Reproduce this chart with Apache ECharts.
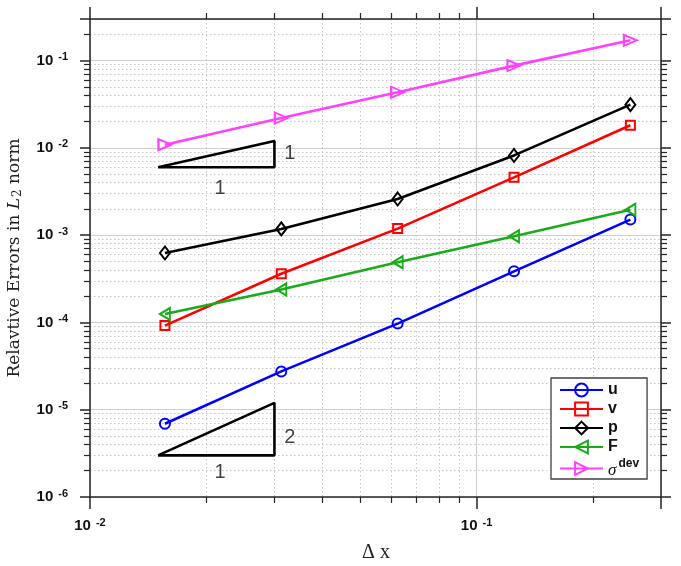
<!DOCTYPE html>
<html>
<head>
<meta charset="utf-8">
<script src="https://cdn.jsdelivr.net/npm/echarts@6/dist/echarts.min.js"></script>
<style>
html,body{margin:0;padding:0;background:#fff;}
#chart{width:681px;height:566px;}
</style>
</head>
<body>
<div id="chart"></div>
<script>
// ---- data ----
const dx = [0.015625, 0.03125, 0.0625, 0.125, 0.25];
const errU = [6.9e-6, 2.75e-5, 9.7e-5, 3.85e-4, 1.51e-3];
const errV = [9.2e-5, 3.62e-4, 1.19e-3, 4.6e-3, 1.82e-2];
const errP = [6.25e-4, 1.18e-3, 2.6e-3, 8.2e-3, 3.13e-2];
const errF = [1.25e-4, 2.38e-4, 4.89e-4, 9.7e-4, 1.96e-3];
const errSigma = [1.09e-2, 2.2e-2, 4.34e-2, 8.77e-2, 1.71e-1];
const seriesNames = ['u', 'v', 'p', 'F', 'sigma'];
// slope triangles (data coordinates)
const slope1Tri = [[0.015, 0.006], [0.03, 0.006], [0.03, 0.012], [0.015, 0.006]];
const slope2Tri = [[0.015, 3e-6], [0.03, 3e-6], [0.03, 1.2e-5], [0.015, 3e-6]];
const slopeLabels = [[0.0329, 0.0086, '1'], [0.0217, 0.0034, '1'], [0.0329, 4.8e-6, '2'], [0.0217, 1.9e-6, '1']];

const chart = echarts.init(document.getElementById('chart'), null, {renderer: 'canvas'});
const axisColor = '#262626';
const sans = 'Liberation Sans, Arial, sans-serif';
const serif = 'Liberation Serif, Times New Roman, serif';

function decLabel(v) {
  const e = Math.log10(v);
  const r = Math.round(e);
  if (Math.abs(e - r) > 1e-6) return '';
  return '{b|10}{s|' + r + '}';
}
const labelRich = {
  b: {fontSize: 15, fontWeight: 'bold', fontFamily: sans, color: '#111', lineHeight: 18},
  s: {fontSize: 11, fontWeight: 'bold', fontFamily: sans, color: '#111', verticalAlign: 'top', padding: [0, 0, 8, 5], lineHeight: 11}
};

function mkAxis(pos, isX, main) {
  return {
    type: 'log', logBase: 10,
    min: isX ? 0.01 : 1e-6, max: 0.3,
    position: pos,
    axisLine: {show: true, onZero: false, lineStyle: {color: axisColor, width: 1.5}},
    axisTick: {show: true, inside: false, length: isX ? 12 : 10, lineStyle: {color: axisColor, width: 1.5}},
    minorTick: {show: true, splitNumber: 9, length: 6, lineStyle: {color: axisColor, width: 1.2}},
    splitLine: {show: main, lineStyle: {color: '#cfcfcf', width: 1.2}},
    minorSplitLine: {show: main, lineStyle: {color: '#c4c4c4', width: 1, type: [1.5, 2.5]}},
    axisLabel: {show: main, margin: isX ? 20 : 22, formatter: decLabel, rich: labelRich,
      fontSize: 15, fontWeight: 'bold', fontFamily: sans, color: '#111'},
    silent: true
  };
}

const colors = ['#0000ff', '#ff0000', '#000000', '#1aab1a', '#ff40ff'];
const symbols = ['circle', 'rect', 'diamond', 'path://M10,0 L0,5 L10,10 Z', 'path://M0,0 L10,5 L0,10 Z'];
const symSizes = [10, 9, [10, 13], [10, 12], [13, 11]];
const allErr = [errU, errV, errP, errF, errSigma];

const dataSeries = allErr.map((arr, i) => ({
  name: seriesNames[i],
  type: 'line',
  data: dx.map((x, j) => [x, arr[j]]),
  symbol: symbols[i],
  symbolSize: symSizes[i],
  showAllSymbol: true,
  lineStyle: {color: colors[i], width: 2.6},
  itemStyle: {color: 'rgba(255,255,255,0)', borderColor: colors[i], borderWidth: 2},
  color: colors[i],
  z: 3 + i,
  animation: false
}));

const triSeries = [slope1Tri, slope2Tri].map((tri, i) => ({
  name: 'tri' + i, type: 'line', data: tri, symbol: 'none',
  lineStyle: {color: '#000', width: 2.6}, silent: true, animation: false, z: 2
}));

const labelSeries = {
  name: 'slopeLabels', type: 'scatter', data: slopeLabels, symbolSize: 0, silent: true, animation: false,
  label: {show: true, position: 'inside', formatter: p => p.data[2], fontSize: 20, fontFamily: sans, color: '#111'}
};

chart.setOption({
  animation: false,
  backgroundColor: '#fff',
  grid: {left: 90, top: 19, right: 20, bottom: 69},
  xAxis: [mkAxis('bottom', true, true), mkAxis('top', true, false)],
  yAxis: [mkAxis('left', false, true), mkAxis('right', false, false)],
  legend: {
    data: seriesNames,
    orient: 'vertical',
    left: 551, top: 378,
    padding: [4, 8, 0, 8],
    itemGap: 3,
    itemWidth: 43,
    itemHeight: 16,
    backgroundColor: '#fff',
    borderColor: '#404040',
    borderWidth: 1.3,
    borderRadius: 0,
    selectedMode: false,
    formatter: n => n === 'sigma' ? '{sig|σ}{dev|dev}' : n,
    textStyle: {
      fontSize: 16, fontWeight: 'bold', fontFamily: sans, color: '#111',
      rich: {
        sig: {fontSize: 17, fontStyle: 'italic', fontWeight: 'normal', fontFamily: serif, color: '#111', padding: [4, 0, 0, 0]},
        dev: {fontSize: 12, fontWeight: 'bold', fontFamily: sans, color: '#111', verticalAlign: 'top', padding: [0, 0, 8, 2]}
      }
    }
  },
  graphic: [
    {type: 'text', x: 15, y: 258, rotation: Math.PI / 2, silent: true,
     style: {text: '{n|Relavtive Errors in }{i|L}{sub|2}{n| norm}', align: 'center', verticalAlign: 'middle',
       rich: {
         n: {fontSize: 17, fontFamily: 'DejaVu Serif, serif', fill: '#222'},
         i: {fontSize: 17, fontFamily: 'DejaVu Serif, serif', fontStyle: 'italic', fill: '#222'},
         sub: {fontSize: 12, fontFamily: 'DejaVu Serif, serif', fill: '#222', verticalAlign: 'bottom', padding: [6, 0, 0, 1]}
       }}},
    {type: 'text', x: 376, y: 553, silent: true,
     style: {text: 'Δ x', fontSize: 20, fontFamily: serif, fill: '#222', align: 'center', verticalAlign: 'middle'}}
  ],
  series: [...triSeries, labelSeries, ...dataSeries]
});
</script>
</body>
</html>
